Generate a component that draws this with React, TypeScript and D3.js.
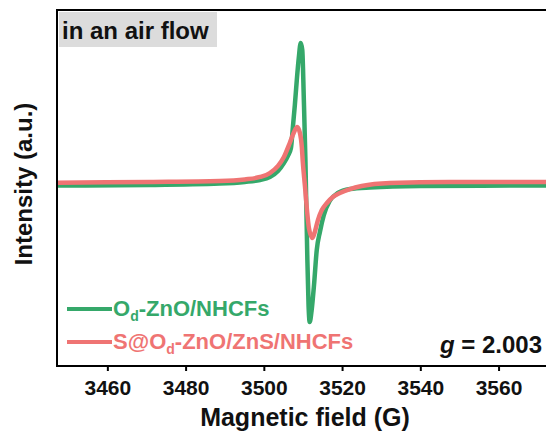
import React from 'react';
import * as d3 from 'd3';

// field (G) and intensity (a.u.)
const greenField = [3447.0, 3470.7, 3488.6, 3495.0, 3498.9, 3501.4, 3503.5, 3505.0, 3506.0, 3506.8, 3507.3, 3507.8, 3508.3, 3508.8, 3509.3, 3509.7, 3510.1, 3510.5, 3510.7, 3511.0, 3511.3, 3511.6, 3512.1, 3512.7, 3513.4, 3514.2, 3515.2, 3516.7, 3518.8, 3521.9, 3527.0, 3539.8, 3572.0];
const greenInt = [0.014, 0.017, 0.025, 0.034, 0.045, 0.062, 0.096, 0.140, 0.180, 0.225, 0.343, 0.466, 0.607, 0.730, 0.815, 0.775, 0.494, 0.157, -0.067, -0.404, -0.657, -0.753, -0.685, -0.545, -0.348, -0.247, -0.152, -0.073, -0.028, -0.006, 0.003, 0.011, 0.014];

const redField = [3447.0, 3470.7, 3488.6, 3495.0, 3498.9, 3501.4, 3503.5, 3505.0, 3506.5, 3507.5, 3508.4, 3509.1, 3509.6, 3509.8, 3510.4, 3510.9, 3511.4, 3512.3, 3512.9, 3513.7, 3514.7, 3516.0, 3517.5, 3519.3, 3521.9, 3524.9, 3532.1, 3547.4, 3572.0];
const redInt = [0.030, 0.034, 0.039, 0.048, 0.062, 0.084, 0.124, 0.174, 0.253, 0.309, 0.343, 0.309, 0.225, 0.157, 0.006, -0.124, -0.225, -0.281, -0.247, -0.180, -0.124, -0.084, -0.051, -0.028, -0.006, 0.011, 0.028, 0.034, 0.034];

const xTicks = [3460, 3480, 3500, 3520, 3540, 3560];
const seriesNames = ['Od-ZnO/NHCFs', 'S@Od-ZnO/ZnS/NHCFs'];
const seriesColors = ['#35a86a', '#ef7473'];

const W = 546, H = 432;
const margin = { top: 10, right: 0, bottom: 66, left: 57 };

export default function App() {
  const x = d3.scaleLinear().domain([3447, 3572]).range([margin.left, W - margin.right]);
  const y = d3.scaleLinear().domain([-1, 1]).range([H - margin.bottom, margin.top]);

  const line = d3.line<[number, number]>()
    .x(d => x(d[0]))
    .y(d => y(d[1]))
    .curve(d3.curveMonotoneX);

  const green = greenField.map((f, i) => [f, greenInt[i]] as [number, number]);
  const red = redField.map((f, i) => [f, redInt[i]] as [number, number]);

  const font = 'Arial, "Liberation Sans", sans-serif';
  const bottom = H - margin.bottom;

  return (
    <svg width={W} height={H} style={{ position: 'absolute', left: 0, top: 0 }} fontFamily={font}>
      <rect x={0} y={0} width={W} height={H} fill="#fff" />
      <defs>
        <clipPath id="plot">
          <rect x={margin.left} y={margin.top} width={W - margin.left} height={bottom - margin.top} />
        </clipPath>
      </defs>

      <g clipPath="url(#plot)">
        <path d={line(green) || ''} fill="none" stroke={seriesColors[0]} strokeWidth={4.5} strokeLinejoin="round" />
        <path d={line(red) || ''} fill="none" stroke={seriesColors[1]} strokeWidth={4.5} strokeLinejoin="round" />
      </g>

      {/* frame */}
      <line x1={margin.left} x2={W} y1={margin.top} y2={margin.top} stroke="#000" strokeWidth={2} />
      <line x1={margin.left} x2={margin.left} y1={margin.top - 1} y2={bottom + 1} stroke="#000" strokeWidth={2} />
      <line x1={margin.left - 1} x2={W} y1={bottom} y2={bottom} stroke="#000" strokeWidth={2} />

      {xTicks.map(t => (
        <g key={t}>
          <line x1={x(t)} x2={x(t)} y1={bottom} y2={bottom + 5} stroke="#000" strokeWidth={2} />
          <text x={x(t)} y={395} textAnchor="middle" fontSize={21} fontWeight="bold" fill="#111">{t}</text>
        </g>
      ))}

      <text x={305} y={426} textAnchor="middle" fontSize={25} fontWeight="bold" fill="#111">Magnetic field (G)</text>
      <text transform={`translate(32,184) rotate(-90)`} textAnchor="middle" fontSize={24} fontWeight="bold" fill="#111">Intensity (a.u.)</text>

      {/* label box */}
      <rect x={59} y={12} width={158} height={35} fill="#dcdcdc" />
      <text x={62} y={39} fontSize={24} fontWeight="bold" fill="#111">in an air flow</text>

      {/* legend */}
      {seriesNames.map((name, i) => {
        const ly = 309 + i * 33;
        const [pre, post] = name.split('Od');
        return (
          <g key={name}>
            <line x1={67} x2={112} y1={ly} y2={ly} stroke={seriesColors[i]} strokeWidth={4} />
            <text x={113} y={ly + 7} fontSize={22} fontWeight="bold" fill={seriesColors[i]}>
              {pre}O<tspan fontSize={14} dy={5}>d</tspan><tspan dy={-5}>{post}</tspan>
            </text>
          </g>
        );
      })}

      <text x={542} y={353} textAnchor="end" fontSize={24} fontWeight="bold" fill="#111">
        <tspan fontStyle="italic">g</tspan> = 2.003
      </text>
    </svg>
  );
}
